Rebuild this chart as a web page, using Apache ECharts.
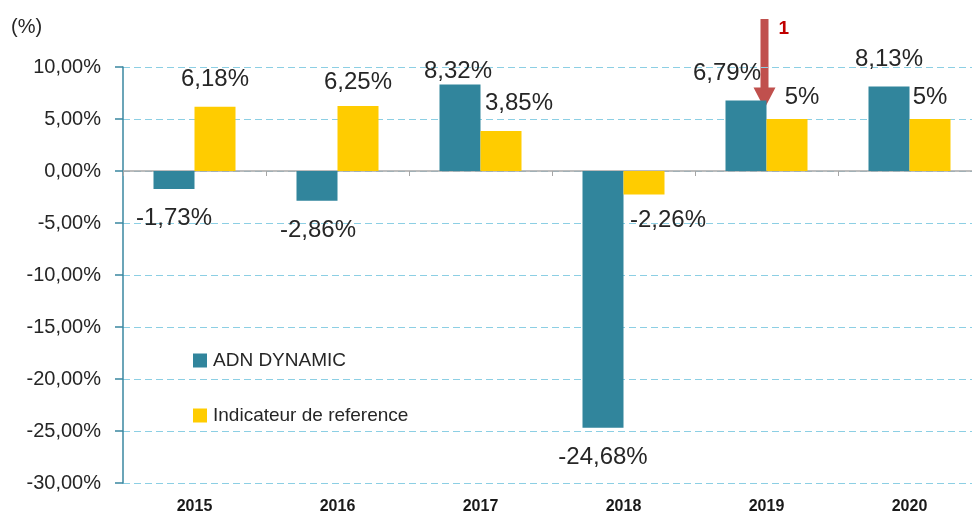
<!DOCTYPE html>
<html>
<head>
<meta charset="utf-8">
<script src="https://cdn.jsdelivr.net/npm/echarts@6/dist/echarts.min.js"></script>
<style>
html, body { margin: 0; padding: 0; background: #fff; }
#chartContainer { width: 972px; height: 522px; }
</style>
</head>
<body>
<div id="chartContainer"></div>
<script>
// données du graphique
var years = ['2015', '2016', '2017', '2018', '2019', '2020'];
var adnDynamic = [-1.73, -2.86, 8.32, -24.68, 6.79, 8.13];
var indicateur = [6.18, 6.25, 3.85, -2.26, 5, 5];
var seriesNames = ['ADN DYNAMIC', 'Indicateur de reference'];

// décalage des étiquettes (comme dans le graphique d'origine)
var adnLabelOffsets = [[0, 12], [1, 13], [-2, 4], [0, 13], [-19, -10], [0, -10]];
var indLabelOffsets = [[0, -10], [0, -7], [18, -11], [24, 9], [15, -5], [0, -5]];

var FONT = 'Liberation Sans';
var TEAL = '#31859C';
var YELLOW = '#FFCC00';
var GRID_BLUE = '#8CCFE4';

function pct(v) {
	return String(v).replace('.', ',') + '%';
}

function buildData(values, offsets) {
	var arr = [];
	for (var i = 0; i < values.length; i++) {
		arr.push({ value: values[i], label: { offset: offsets[i] } });
	}
	return arr;
}

var myChart = echarts.init(document.getElementById('chartContainer'));
var labelStyle = {
	show: true,
	position: 'outside',
	distance: 5,
	fontFamily: FONT,
	fontSize: 24,
	color: '#262626',
	formatter: function (p) { return pct(p.value); }
};

var option = {
	animation: false,
	textStyle: { fontFamily: FONT },
	grid: { left: 123, top: 67, width: 858, height: 416, outerBoundsMode: 'none', containLabel: false },
	legend: {
		orient: 'vertical',
		left: 188,
		top: 346,
		itemWidth: 14,
		itemHeight: 14,
		itemGap: 36,
		icon: 'rect',
		textStyle: { fontFamily: FONT, fontSize: 19, color: '#262626', padding: [0, 0, 0, 1] },
		data: seriesNames
	},
	xAxis: [
		{
			type: 'category',
			data: years,
			position: 'bottom',
			axisLine: { show: false },
			axisTick: { show: false },
			splitLine: { show: false },
			axisLabel: { margin: 16, fontFamily: FONT, fontWeight: 'bold', fontSize: 16, color: '#1a1a1a' }
		},
		{
			type: 'category',
			data: years,
			position: 'bottom',
			axisLine: { show: true, onZero: true, onZeroAxisIndex: 0, lineStyle: { color: '#A6A6A6', width: 1.5 } },
			axisTick: { show: true, length: 5, lineStyle: { color: '#A6A6A6' } },
			splitLine: { show: false },
			axisLabel: { show: false }
		}
	],
	yAxis: {
		type: 'value',
		min: -30,
		max: 10,
		interval: 5,
		axisLine: { show: true, lineStyle: { color: '#3A87A0', width: 1.5 } },
		axisTick: { show: true, inside: false, length: 8, lineStyle: { color: '#3A87A0', width: 1.5 } },
		axisLabel: {
			margin: 22,
			fontFamily: FONT,
			fontSize: 20,
			color: '#262626',
			formatter: function (v) { return v.toFixed(2).replace('.', ',') + '%'; }
		},
		splitLine: { show: true, lineStyle: { color: [GRID_BLUE], type: [7, 4], width: 1 } }
	},
	graphic: [
		{
			type: 'text',
			left: 11,
			top: 17,
			style: { text: '(%)', fontFamily: FONT, fontSize: 20, fill: '#262626' }
		}
	],
	series: [
		{
			name: seriesNames[0],
			type: 'bar',
			barWidth: 41,
			barGap: '0%',
			itemStyle: { color: TEAL },
			label: labelStyle,
			data: buildData(adnDynamic, adnLabelOffsets)
		},
		{
			name: seriesNames[1],
			type: 'bar',
			barWidth: 41,
			barGap: '0%',
			itemStyle: { color: YELLOW },
			label: labelStyle,
			data: buildData(indicateur, indLabelOffsets)
		}
	]
};
myChart.setOption(option);

// flèche rouge au-dessus de 2019
var tip = myChart.convertToPixel({ xAxisIndex: 0, yAxisIndex: 0 }, ['2019', adnDynamic[4]]);
var ax = tip[0] - 2;
var ty = tip[1] + 8;
var topY = 19;
myChart.setOption({
	graphic: [
		option.graphic[0],
		{
			type: 'polygon',
			shape: {
				points: [
					[ax - 4, topY], [ax + 4, topY], [ax + 4, ty - 21], [ax + 11, ty - 21],
					[ax, ty], [ax - 11, ty - 21], [ax - 4, ty - 21]
				]
			},
			style: { fill: '#C0504D' }
		},
		{
			type: 'text',
			x: ax + 14,
			y: topY,
			style: { text: '1', fontFamily: FONT, fontWeight: 'bold', fontSize: 19, fill: '#C00000' }
		}
	]
});
</script>
</body>
</html>
